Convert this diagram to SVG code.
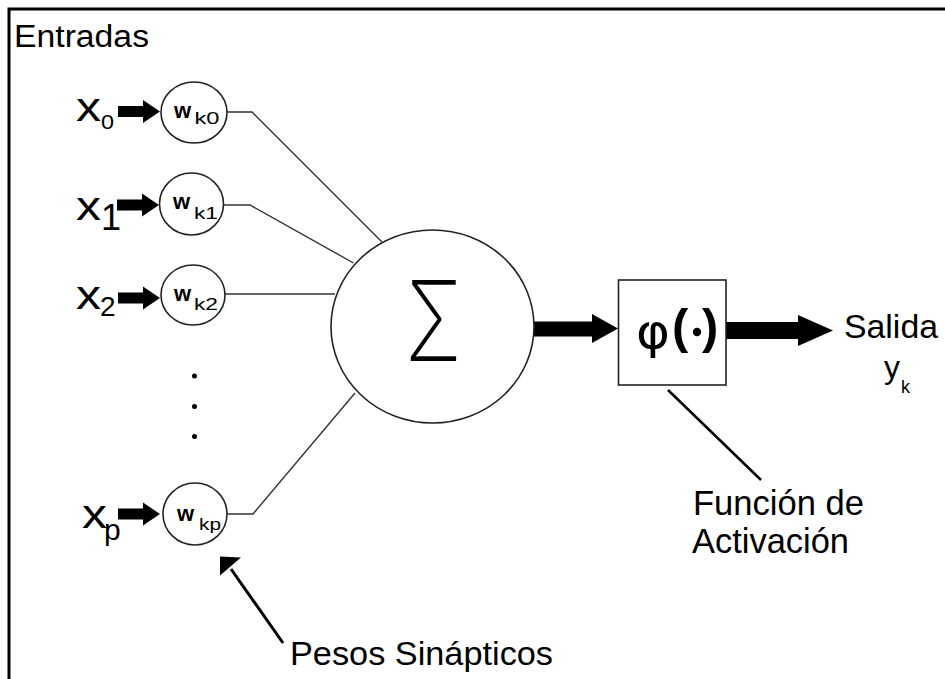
<svg xmlns="http://www.w3.org/2000/svg" width="945" height="679" viewBox="0 0 945 679">
<defs>
<style>
text{font-family:"Liberation Sans",Arial,sans-serif;fill:#000}
.lbl{font-size:33px}
.xv{font-size:40px}
.w{font-size:22px;font-weight:bold}
.ws{font-size:17px}
.thin{fill:none;stroke:#333;stroke-width:1.4}
.node{fill:#fff;stroke:#222;stroke-width:1.6}
.fat{fill:#000;stroke:none}
</style>
<path id="inArrow" d="M-42,-5.5 H-17 V-11.5 L0,0 L-17,11.5 V5.5 H-42 Z"/>
</defs>
<rect x="0" y="0" width="945" height="679" fill="#fff"/>
<g id="frame" fill="none" stroke="#000" stroke-width="3">
<path d="M9,679 V9 H945"/>
</g>
<text id="entradas" x="14" y="47" style="font-size:31px" textLength="135" lengthAdjust="spacingAndGlyphs">Entradas</text>

<g id="connectors">
<polyline class="thin" points="227,112 252,112 382,242"/>
<polyline class="thin" points="223,205 250,205 353.5,263"/>
<polyline class="thin" points="225,294 335,294"/>
<polyline class="thin" points="227,514 253,514 355,393"/>
<use href="#inArrow" class="fat" transform="translate(160,111.5)"/>
<use href="#inArrow" class="fat" transform="translate(159,205)"/>
<use href="#inArrow" class="fat" transform="translate(160,298)"/>
<use href="#inArrow" class="fat" transform="translate(160,514)"/>
<path class="fat" d="M533,321.5 H592 V314 L618,328.5 L592,343 V336.5 H533 Z"/>
<path class="fat" d="M726,322 H798 V315 L833,330.5 L798,346 V339 H726 Z"/>
<line x1="668" y1="390" x2="761" y2="480" stroke="#000" stroke-width="2.5"/>
<line x1="283" y1="643" x2="231" y2="569" stroke="#000" stroke-width="3"/>
<path class="fat" d="M220,556.5 L241,557.5 L220,575.5 Z"/>
</g>

<g id="in0">
<text class="xv" x="76" y="121" textLength="25" lengthAdjust="spacingAndGlyphs">x</text>
<text x="101" y="129" style="font-size:20px" textLength="13" lengthAdjust="spacingAndGlyphs">0</text>
</g>
<g id="in1">
<text class="xv" x="76" y="220" textLength="25" lengthAdjust="spacingAndGlyphs">x</text>
<text x="101" y="230" style="font-size:36px">1</text>
</g>
<g id="in2">
<text class="xv" x="76" y="309" textLength="25" lengthAdjust="spacingAndGlyphs">x</text>
<text x="100" y="316" style="font-size:28px">2</text>
</g>
<g id="inp">
<text class="xv" x="82" y="528" textLength="25" lengthAdjust="spacingAndGlyphs">x</text>
<text x="104" y="540" style="font-size:30px">p</text>
</g>

<g id="dots" fill="#000">
<circle cx="194.5" cy="376" r="2.5"/>
<circle cx="194.5" cy="406.5" r="2.5"/>
<circle cx="194.5" cy="436.5" r="2.5"/>
</g>

<g id="wk0">
<ellipse class="node" cx="194" cy="112.5" rx="33" ry="30.5"/>
<text class="w" x="174" y="118">w</text>
<text class="ws" x="194.5" y="124" textLength="25" lengthAdjust="spacingAndGlyphs">k0</text>
</g>
<g id="wk1">
<ellipse class="node" cx="191.5" cy="204" rx="32" ry="31"/>
<text class="w" x="173" y="208.5">w</text>
<text class="ws" x="194" y="219" textLength="24" lengthAdjust="spacingAndGlyphs">k1</text>
</g>
<g id="wk2">
<ellipse class="node" cx="193" cy="295" rx="32" ry="30"/>
<text class="w" x="174" y="300.5">w</text>
<text class="ws" x="194" y="310" textLength="24" lengthAdjust="spacingAndGlyphs">k2</text>
</g>
<g id="wkp">
<ellipse class="node" cx="195" cy="514" rx="32" ry="31"/>
<text class="w" x="177" y="520.5">w</text>
<text class="ws" x="199" y="530" textLength="22" lengthAdjust="spacingAndGlyphs">kp</text>
</g>

<g id="sum">
<ellipse class="node" cx="432.5" cy="326.5" rx="101.5" ry="96.5"/>
<text x="405" y="361" style="font-family:Inter,'Liberation Sans',sans-serif;font-size:112px;font-weight:200" textLength="57" lengthAdjust="spacingAndGlyphs">Σ</text>
</g>

<g id="activation">
<rect class="node" x="618.5" y="280" width="107.5" height="105"/>
<text x="636" y="348" style="font-family:'DejaVu Sans',sans-serif;font-size:48px;font-weight:normal" textLength="34" lengthAdjust="spacingAndGlyphs">φ</text>
<text x="672" y="343" style="font-size:49px;font-weight:bold">(</text>
<text x="702" y="343" style="font-size:49px;font-weight:bold">)</text>
<circle cx="697" cy="332" r="4.2" fill="#000"/>
</g>

<g id="output">
<text class="lbl" x="844" y="338" textLength="94" lengthAdjust="spacingAndGlyphs">Salida</text>
<text x="884" y="378" style="font-size:32px">y</text>
<text x="901" y="393" style="font-size:18px">k</text>
</g>

<g id="funcLabel">
<text x="693" y="515" style="font-size:35px" textLength="171" lengthAdjust="spacingAndGlyphs">Función de</text>
<text x="692" y="553" style="font-size:35px" textLength="157" lengthAdjust="spacingAndGlyphs">Activación</text>
</g>

<g id="pesosLabel">
<text class="lbl" x="290" y="665" textLength="263" lengthAdjust="spacingAndGlyphs">Pesos Sinápticos</text>
</g>
</svg>
